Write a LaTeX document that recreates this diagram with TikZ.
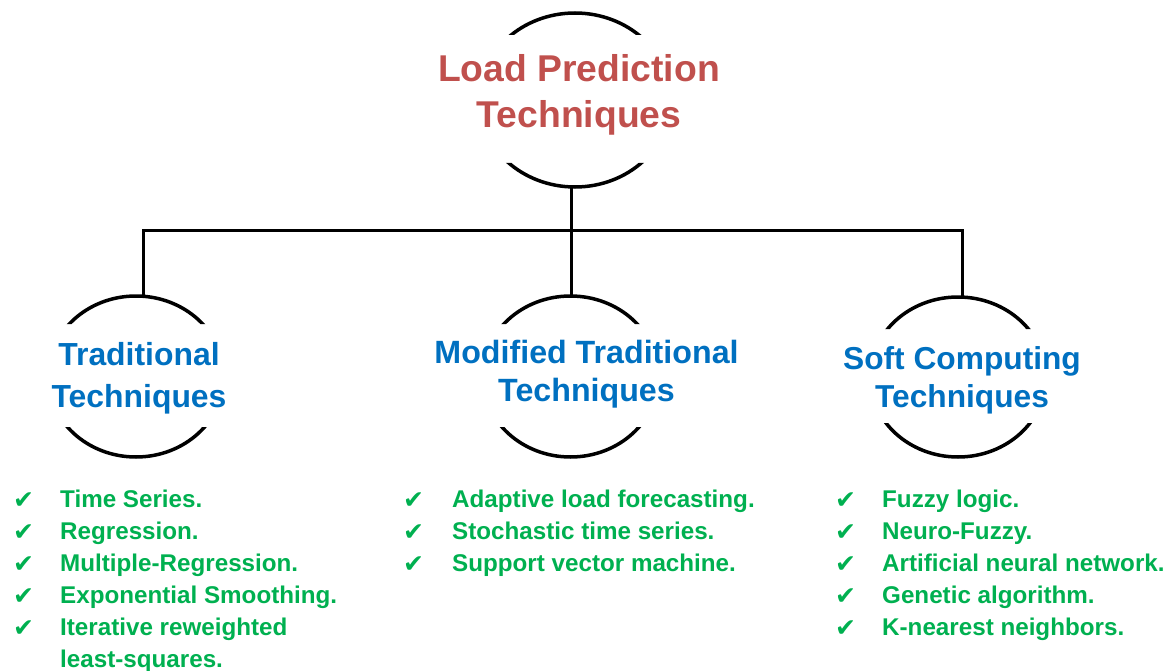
\documentclass[tikz,border=0pt]{standalone}
\usepackage{fontspec}
\setmainfont{Liberation Sans}
\newfontfamily\ckfont{DejaVu Sans}
\usetikzlibrary{shapes.geometric}
\definecolor{titlered}{HTML}{C0504D}
\definecolor{headblue}{HTML}{0070C0}
\definecolor{itemgreen}{HTML}{00B050}
\newcommand{\chk}[1]{\makebox[#1][l]{\raisebox{-1pt}{\ckfont\fontsize{25pt}{25pt}\selectfont ✔}}}
\tikzset{
  ring/.style={ellipse, draw=none, inner sep=0pt, outer sep=0pt},
  conn/.style={line width=3pt, black, line join=miter},
  ringline/.style={line width=3.5pt, black},
  headtext/.style={anchor=base, inner sep=0pt, text=headblue, font=\bfseries\fontsize{31.7pt}{38pt}\selectfont},
  listtext/.style={anchor=base west, inner sep=0pt, text=itemgreen, font=\bfseries\fontsize{24.2pt}{32pt}\selectfont}
}
\begin{document}
\begin{tikzpicture}[x=1pt, y=-1pt]
\useasboundingbox (0,0) rectangle (1174,671);

% ring nodes (named shapes)
\node[ring, minimum width=192pt, minimum height=174pt] (T) at (575,100) {};
\node[ring, minimum width=176pt, minimum height=161pt] (L) at (136,376.5) {};
\node[ring, minimum width=176pt, minimum height=161pt] (M) at (570.5,376.5) {};
\node[ring, minimum width=176pt, minimum height=160pt] (R) at (958,377) {};

% ring outlines, broken where the text passes
\begin{scope}
  \clip (460,0) rectangle (690,35) (460,163) rectangle (690,200);
  \draw[ringline] (T.center) ellipse [x radius=96pt, y radius=87pt];
\end{scope}
\begin{scope}
  \clip (30,280) rectangle (240,324) (30,427) rectangle (240,470);
  \draw[ringline] (L.center) ellipse [x radius=88pt, y radius=80.5pt];
\end{scope}
\begin{scope}
  \clip (470,280) rectangle (670,324) (470,427) rectangle (670,470);
  \draw[ringline] (M.center) ellipse [x radius=88pt, y radius=80.5pt];
\end{scope}
\begin{scope}
  \clip (860,280) rectangle (1060,329) (860,423) rectangle (1060,470);
  \draw[ringline] (R.center) ellipse [x radius=88pt, y radius=80pt];
\end{scope}

% connectors
\coordinate (hub) at (571,230);
\coordinate (bl) at (143,230);
\coordinate (br) at (962,230);
\draw[conn] (hub |- T.south) -- (hub);
\draw[conn] (bl |- L.north) -- (bl) -- (br) -- (br |- R.north);
\draw[conn] (hub) -- (hub |- M.north);

% texts
\node[anchor=base, inner sep=0pt, text=titlered, font=\bfseries\fontsize{37.3pt}{46pt}\selectfont] (ttl) at (579,82)
  {\begin{tabular}[t]{@{}c@{}}Load Prediction\\Techniques\end{tabular}};
\node[headtext, font=\bfseries\fontsize{31.9pt}{42pt}\selectfont] (tL) at (139,365)
  {\begin{tabular}[t]{@{}c@{}}Traditional\\Techniques\end{tabular}};
\node[headtext, font=\bfseries\fontsize{32.2pt}{38pt}\selectfont] (tM) at (586.5,363)
  {\begin{tabular}[t]{@{}c@{}}Modified Traditional\\Techniques\end{tabular}};
\node[headtext] (tR) at (962,369)
  {\begin{tabular}[t]{@{}c@{}}Soft Computing\\Techniques\end{tabular}};

% lists
\node[listtext] (listL) at (13,507)
  {\begin{tabular}[t]{@{}l@{}l@{}}
   \chk{47pt} & Time Series.\\
   \chk{47pt} & Regression.\\
   \chk{47pt} & Multiple-Regression.\\
   \chk{47pt} & Exponential Smoothing.\\
   \chk{47pt} & Iterative reweighted\\
              & least-squares.
   \end{tabular}};
\node[listtext] (listM) at (403,507)
  {\begin{tabular}[t]{@{}l@{}l@{}}
   \chk{49pt} & Adaptive load forecasting.\\
   \chk{49pt} & Stochastic time series.\\
   \chk{49pt} & Support vector machine.
   \end{tabular}};
\node[listtext] (listR) at (835,507)
  {\begin{tabular}[t]{@{}l@{}l@{}}
   \chk{47pt} & Fuzzy logic.\\
   \chk{47pt} & Neuro-Fuzzy.\\
   \chk{47pt} & Artificial neural network.\\
   \chk{47pt} & Genetic algorithm.\\
   \chk{47pt} & K-nearest neighbors.
   \end{tabular}};
\end{tikzpicture}
\end{document}
